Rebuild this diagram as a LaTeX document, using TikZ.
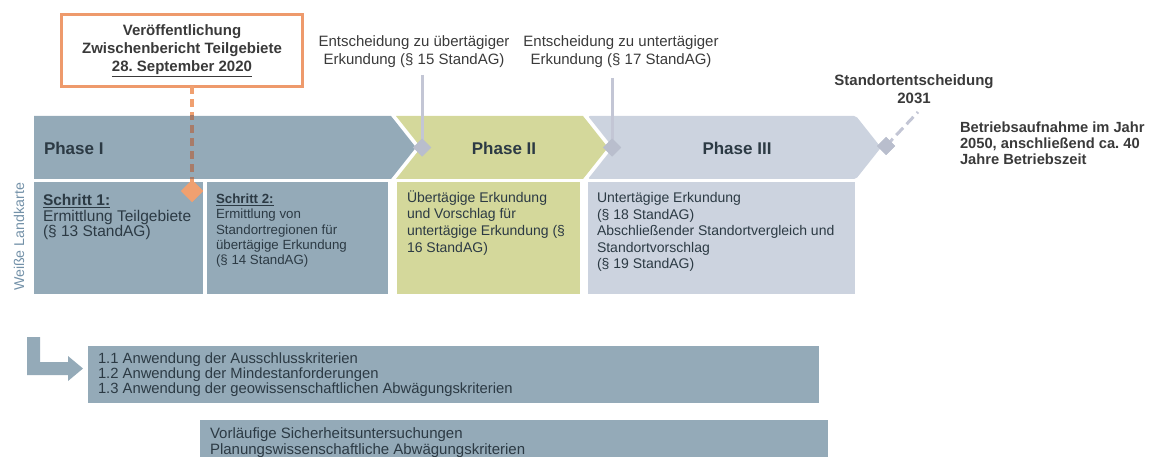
\documentclass[tikz,border=0pt]{standalone}
\usepackage{fontspec}
\setmainfont{Liberation Sans}
\usetikzlibrary{shapes.geometric}
\definecolor{pone}{HTML}{94AAB8}
\definecolor{ptwo}{HTML}{D4D89B}
\definecolor{pthree}{HTML}{CCD3DF}
\definecolor{txt}{HTML}{2C3A44}
\definecolor{lbl}{HTML}{3A3A3A}
\definecolor{obord}{HTML}{EE9A6C}
\definecolor{ofill}{HTML}{F0A070}
\definecolor{obrown}{HTML}{A87B68}
\definecolor{conn}{HTML}{C3C6D5}
\definecolor{dia}{HTML}{B9BECD}
\definecolor{wl}{HTML}{7391A8}
\newcommand\fsz[2]{\fontsize{#1pt}{#2pt}\selectfont}
\frenchspacing
\begin{document}
\begin{tikzpicture}[x=1pt,y=-1pt,
  every node/.style={inner sep=0pt,outer sep=0pt},
  stepbox/.style={draw=none,rectangle,anchor=north west},
  bodytxt/.style={anchor=north west,align=left,text=txt},
  phasetxt/.style={font=\bfseries\fsz{17}{20},text=txt},
  toplbl/.style={align=center,text=lbl,font=\fsz{15}{18}},
  gdia/.style={diamond,fill=dia,minimum width=18pt,minimum height=18pt},
  connline/.style={draw=conn,line width=3pt},
  critbox/.style={rectangle,fill=pone,anchor=north west}]
\useasboundingbox (0,0) rectangle (1149,457);
\clip (0,0) rectangle (1149,457);

% phase chevrons
\fill[pone] (34,116) -- (391,116) -- (416,147.5) -- (391,179) -- (34,179) -- cycle;
\fill[ptwo] (396,116) -- (583,116) -- (608,147.5) -- (583,179) -- (396,179) -- (421,147.5) -- cycle;
\fill[pthree,rounded corners=2pt] (588,116) -- (856,116) -- (881,147.5) -- (856,179) -- (588,179) -- (613,147.5) -- cycle;

\node[phasetxt,anchor=west] (ph1) at (44,148) {Phase I};
\node[phasetxt] (ph2) at (504,148) {Phase II};
\node[phasetxt] (ph3) at (737,148) {Phase III};

% step boxes
\node[stepbox,fill=pone,minimum width=169pt,minimum height=112pt] (s1) at (34,182) {};
\node[stepbox,fill=pone,minimum width=181pt,minimum height=112pt] (s2) at (207,182) {};
\node[stepbox,fill=ptwo,minimum width=183pt,minimum height=112pt] (s3) at (397,182) {};
\node[stepbox,fill=pthree,minimum width=267pt,minimum height=112pt] (s4) at (588,182) {};

\node[bodytxt,font=\fsz{15.5}{15.8}] (t1) at (43,194) {\textbf{\underline{Schritt 1:}}\\Ermittlung Teilgebiete\\(§ 13 StandAG)};
\node[bodytxt,font=\fsz{13.3}{15.2}] (t2) at (216,194) {\textbf{\underline{Schritt 2:}}\\Ermittlung von\\Standortregionen für\\übertägige Erkundung\\(§ 14 StandAG)};
\node[bodytxt,font=\fsz{14}{16.7}] (t3) at (407,190.5) {Übertägige Erkundung\\und Vorschlag für\\untertägige Erkundung (§\\16 StandAG)};
\node[bodytxt,font=\fsz{14}{16.5}] (t4) at (597,192.5) {Untertägige Erkundung\\(§ 18 StandAG)\\Abschließender Standortvergleich und\\Standortvorschlag\\(§ 19 StandAG)};

% orange publication box
\node[draw=obord,line width=3pt,fill=white,minimum width=241pt,minimum height=72pt,
      align=center,font=\bfseries\fsz{15}{18},text=lbl] (pub) at (182,50.5)
  {Veröffentlichung\\Zwischenbericht Teilgebiete\\\underline{28. September 2020}};
\node[diamond,fill=ofill,minimum width=22pt,minimum height=22pt] (odia) at (192,191) {};
\draw[ofill,line width=3.5pt,dash pattern=on 8pt off 5pt] (pub.south -| odia) -- (odia.center);
\begin{scope}
  \clip (34,116) rectangle (391,179);
  \draw[obrown,line width=3.5pt,dash pattern=on 8pt off 5pt] (pub.south -| odia) -- (odia.center);
\end{scope}
\node[diamond,fill=ofill,minimum width=22pt,minimum height=22pt] at (odia) {};

% decision labels and connectors
\node[toplbl] (l15) at (414,52) {Entscheidung zu übertägiger\\Erkundung (§ 15 StandAG)};
\node[toplbl] (l17) at (621,52) {Entscheidung zu untertägiger\\Erkundung (§ 17 StandAG)};
\node[gdia] (d1) at (422,147.5) {};
\node[gdia] (d2) at (612,147.5) {};
\node[gdia] (d3) at (886,146) {};
\draw[connline] (d1 |- l15.south) ++(0,7) -- (d1.center);
\draw[connline] (d2 |- l17.south) ++(0,10) -- (d2.center);
\node[gdia] at (d1) {};
\node[gdia] at (d2) {};

\node[align=center,font=\bfseries\fsz{15}{18},text=lbl] (l2031) at (914,89) {Standortentscheidung\\2031};
\coordinate (e2031) at (918,112);
\draw[connline,dash pattern=on 10pt off 5pt] (d3.center) -- (e2031);
\node[gdia] at (d3) {};
\node[anchor=north west,align=left,font=\bfseries\fsz{14.7}{16},text=lbl] (l2050) at (960,121.5)
  {Betriebsaufnahme im Jahr\\2050, anschließend ca. 40\\Jahre Betriebszeit};

\node[rotate=90,font=\fsz{14.2}{16},text=wl] (wlk) at (19,237) {Weiße Landkarte};

% criteria
\fill[pone] (27,337) -- (40,337) -- (40,362) -- (68,362) -- (68,356) -- (83,368.5) -- (68,381) -- (68,375) -- (27,375) -- cycle;
\node[critbox,minimum width=731pt,minimum height=57pt] (c1) at (88,346) {};
\node[bodytxt,anchor=west,font=\fsz{14.8}{14.8}] (c1t) at (98,374.5) {1.1 Anwendung der Ausschlusskriterien\\1.2 Anwendung der Mindestanforderungen\\1.3 Anwendung der geowissenschaftlichen Abwägungskriterien};
\node[critbox,minimum width=628pt,minimum height=60pt] (c2) at (200,420) {};
\node[bodytxt,font=\fsz{15}{16}] (c2t) at (210,428) {Vorläufige Sicherheitsuntersuchungen\\Planungswissenschaftliche Abwägungskriterien};
\end{tikzpicture}
\end{document}
